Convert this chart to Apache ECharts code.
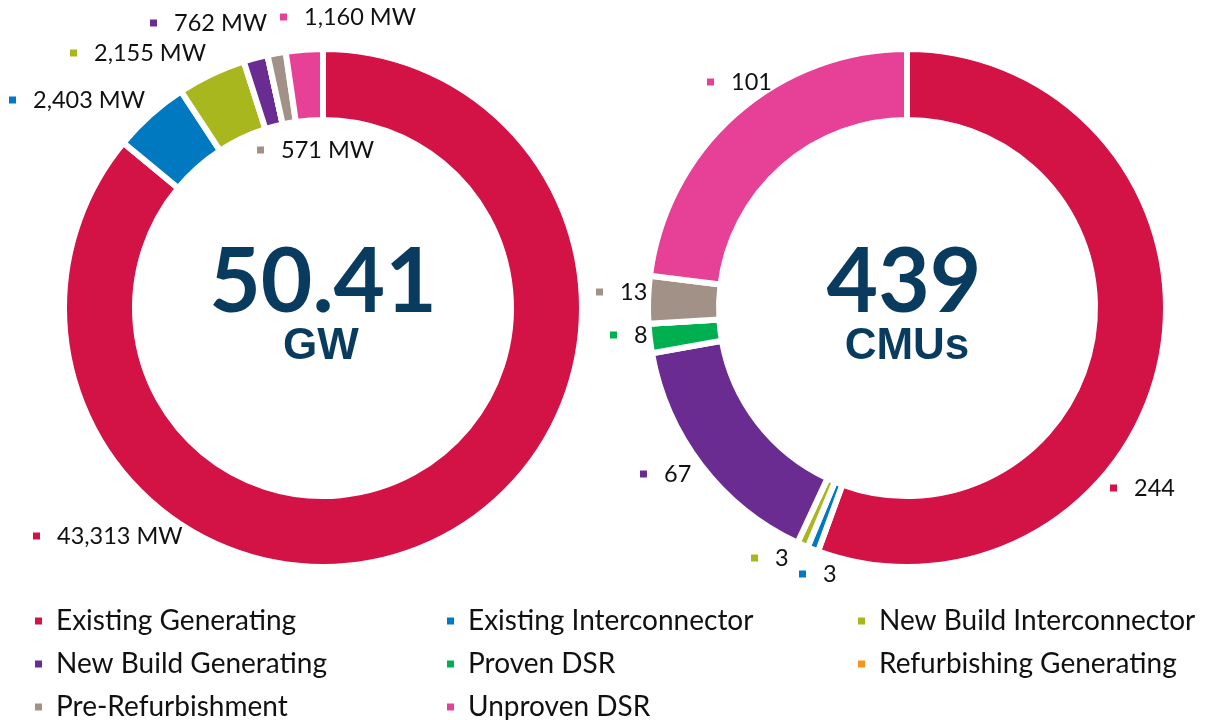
<!DOCTYPE html>
<html><head><meta charset="utf-8">
<script src="https://cdn.jsdelivr.net/npm/echarts@6/dist/echarts.min.js"></script>
<style>html,body{margin:0;padding:0;background:#fff}#chart{width:1205px;height:720px}</style>
</head><body><div id="chart"></div>
<script>
const categories = ['Existing Generating','Existing Interconnector','New Build Interconnector','New Build Generating','Proven DSR','Refurbishing Generating','Pre-Refurbishment','Unproven DSR'];
const capacityMW = [43313, 2403, 2155, 762, 0, 0, 571, 1160];
const cmuCount = [244, 3, 3, 67, 8, 0, 13, 101];
const centerValues = ['50.41', '439'];
const centerUnits = ['GW', 'CMUs'];
const legendColumns = [
  ['Existing Generating', 'New Build Generating', 'Pre-Refurbishment'],
  ['Existing Interconnector', 'Proven DSR', 'Unproven DSR'],
  ['New Build Interconnector', 'Refurbishing Generating']
];

// styling / layout (kept separate from data)
const colors = ['#D31245','#0079C1','#A9B71F','#6A2C91','#00B050','#F7941D','#A29187','#E64097'];
const labelAnchors = [
  [[33,536],[9,100],[70,53],[150,23],null,null,[257,150],[280,17]],
  [[1110,488],[799,574],[751,558],[640,474],[610,335],null,[596,292],[707,82]]
];
const centers = [[323,308],[907,308]];
const legendLefts = [33, 445, 856];

function fmt(n){ return n.toString().replace(/\B(?=(\d{3})+(?!\d))/g, ','); }

function buildData(values, unit){
  return categories.map((name,i)=>({
    name: name,
    value: values[i],
    itemStyle: {color: colors[i]},
    label: {
      show: values[i] > 0,
      formatter: '{m|}{v|' + fmt(values[i]) + unit + '}',
      rich: {
        m: {width: 7, height: 7, backgroundColor: colors[i]},
        v: {fontFamily: 'Lato', fontSize: 23.5, color: '#111', padding: [0,0,0,17]}
      }
    }
  }));
}

const chart = echarts.init(document.getElementById('chart'), null, {renderer:'canvas'});
const seriesVals = [capacityMW, cmuCount];
const units = [' MW', ''];
const option = {
  animation: false,
  color: colors,
  legend: legendColumns.map((names,i)=>({
    orient: 'vertical', left: legendLefts[i], top: 607, height: 125, padding: 0,
    data: names, icon: 'rect', itemWidth: 9, itemHeight: 9, itemGap: 15,
    selectedMode: false,
    textStyle: {fontFamily: 'Lato', fontSize: 28, lineHeight: 28, color: '#111', padding: [0,0,0,8]}
  })),
  series: seriesVals.map((vals, s)=>({
    type: 'pie',
    center: centers[s],
    radius: [188, 259],
    startAngle: 90,
    clockwise: true,
    avoidLabelOverlap: false,
    silent: true,
    itemStyle: {borderColor: '#fff', borderWidth: 6},
    label: {position: 'outside'},
    labelLine: {show: false},
    labelLayout: function(p){
      const a = labelAnchors[s][p.dataIndex];
      if(!a) return {};
      return {x: a[0], y: a[1], align: 'left', verticalAlign: 'middle'};
    },
    emphasis: {disabled: true},
    data: buildData(vals, units[s])
  })),
  graphic: centers.flatMap((c,i)=>[
    {type:'text', x: c[0] - 3 * (i===1), y: c[1] - 25,
     style:{text: centerValues[i], font: 'bold 89px Lato', fill: '#083B5E', align:'center', verticalAlign:'middle', textAlign:'center', textVerticalAlign:'middle'}},
    {type:'text', x: c[0] - 2 * (i===0), y: c[1] + 39,
     style:{text: centerUnits[i], font: 'bold 44px "Liberation Sans"', fill: '#083B5E', align:'center', verticalAlign:'middle', textAlign:'center', textVerticalAlign:'middle'}}
  ])
};
chart.setOption(option);
</script>
</body></html>
